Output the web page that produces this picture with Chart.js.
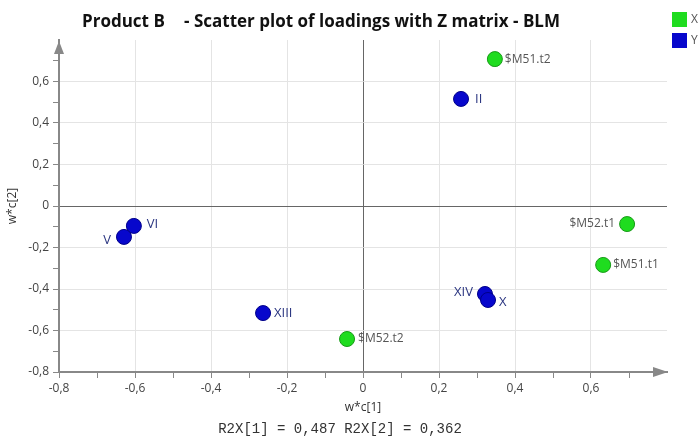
<!DOCTYPE html>
<html>
<head>
<meta charset="utf-8">
<script src="https://cdn.jsdelivr.net/npm/chart.js@4/dist/chart.umd.min.js"></script>
<style>
  html, body { margin: 0; padding: 0; background: #fff; }
  #wrap { width: 699px; height: 437px; }
</style>
</head>
<body>
<div id="wrap"><canvas id="loadings-chart" width="699" height="437"></canvas></div>
<script>
// X block loadings (green)
var xNames = ["$M51.t2", "$M52.t1", "$M51.t1", "$M52.t2"];
var xWc1 = [0.347, 0.695, 0.632, -0.042];
var xWc2 = [0.708, -0.087, -0.284, -0.641];

// Y block loadings (blue)
var yNames = ["II", "VI", "V", "XIII", "XIV", "X"];
var yWc1 = [0.258, -0.603, -0.629, -0.263, 0.321, 0.329];
var yWc2 = [0.516, -0.096, -0.149, -0.516, -0.424, -0.453];

var seriesNames = ["X", "Y"];
var titleMain = "Product B";
var titleRest = "- Scatter plot of loadings with Z matrix - BLM";
var footerText = "R2X[1] = 0,487 R2X[2] = 0,362";

// where each point label sits relative to its point (px)
var labelPlace = {
  "$M51.t2": [10, 0, "left"], "$M52.t1": [-12, 0, "right"], "$M51.t1": [10, 0, "left"], "$M52.t2": [11, 0, "left"],
  "II": [14, 0, "left"], "VI": [13, -2, "left"], "V": [-13, 3, "right"], "XIII": [11, 0, "left"],
  "XIV": [-12, -2, "right"], "X": [11, 2, "left"]
};

function toPoints(a, b) {
  var pts = [];
  for (var i = 0; i < a.length; i++) pts.push({x: a[i], y: b[i]});
  return pts;
}

function isMajor(v) { return Math.abs(Math.round(v * 10)) % 2 === 0; }
function isTop(v) { return Math.round(v * 10) === 8; }

function gridColor(ctx) {
  var v = ctx.tick.value;
  if (isTop(v)) return "rgba(0,0,0,0)";
  if (Math.abs(v) < 1e-9) return "#666";
  return isMajor(v) ? "#e4e4e4" : "rgba(0,0,0,0)";
}
function tickColor(ctx) {
  return isTop(ctx.tick.value) ? "rgba(0,0,0,0)" : "#888";
}
function tickLabel(v) {
  if (!isMajor(v) || isTop(v)) return "";
  return (Math.round(v * 10) / 10).toString().replace(".", ",");
}

var extras = {
  id: "extras",
  afterDraw: function(chart) {
    var c = chart.ctx, area = chart.chartArea;
    c.save();
    // axis arrows
    c.fillStyle = "#888";
    c.beginPath();
    c.moveTo(area.left, area.top + 1);
    c.lineTo(area.left - 5, area.top + 14);
    c.lineTo(area.left + 5, area.top + 14);
    c.closePath();
    c.fill();
    c.beginPath();
    c.moveTo(area.right + 1, area.bottom);
    c.lineTo(area.right - 14, area.bottom - 5);
    c.lineTo(area.right - 14, area.bottom + 5);
    c.closePath();
    c.fill();

    // point labels
    chart.data.datasets.forEach(function(ds, di) {
      var meta = chart.getDatasetMeta(di);
      var names = di === 0 ? xNames : yNames;
      c.font = di === 0 ? '12px "Open Sans"' : '13px "Open Sans"';
      c.fillStyle = di === 0 ? "#555" : "#2a3580";
      c.textBaseline = "middle";
      meta.data.forEach(function(el, i) {
        var p = labelPlace[names[i]] || [10, 0, "left"];
        c.textAlign = p[2];
        c.fillText(names[i], el.x + p[0], el.y + p[1]);
      });
    });

    // title
    c.fillStyle = "#111";
    c.font = 'bold 17px "Open Sans"';
    c.textAlign = "left";
    c.textBaseline = "middle";
    c.fillText(titleMain, 82, 22);
    c.fillText(titleRest, 184, 22);

    // legend
    var colors = [chart.data.datasets[0].backgroundColor, chart.data.datasets[1].backgroundColor];
    c.font = '12px "Open Sans"';
    for (var k = 0; k < seriesNames.length; k++) {
      c.fillStyle = colors[k];
      c.fillRect(672, 12 + k * 21, 15, 15);
      c.fillStyle = "#555";
      c.fillText(seriesNames[k], 691, 20 + k * 21);
    }

    // footer
    c.fillStyle = "#333";
    c.font = '14px "Liberation Mono"';
    c.textAlign = "center";
    c.fillText(footerText, 340, 429);
    c.restore();
  }
};

var canvasElement = document.getElementById("loadings-chart");
var config = {
  type: "scatter",
  data: {
    datasets: [
      {label: seriesNames[0], data: toPoints(xWc1, xWc2), backgroundColor: "#1fdc1f", borderColor: "#179a17", borderWidth: 1, pointRadius: 7.5, pointHoverRadius: 7.5},
      {label: seriesNames[1], data: toPoints(yWc1, yWc2), backgroundColor: "#0707cc", borderColor: "#00008a", borderWidth: 1, pointRadius: 7.5, pointHoverRadius: 7.5}
    ]
  },
  options: {
    responsive: false,
    animation: false,
    layout: {padding: {top: 40, right: 32, left: 0, bottom: 0}},
    plugins: {legend: {display: false}, tooltip: {enabled: false}, title: {display: false}},
    scales: {
      x: {
        type: "linear", min: -0.8, max: 0.8,
        afterFit: function(s) { s.height = 65; },
        ticks: {stepSize: 0.1, autoSkip: false, maxRotation: 0, padding: 3, color: "#444", font: {family: "Open Sans", size: 12}, callback: tickLabel},
        grid: {color: gridColor, tickColor: tickColor, tickLength: 6, lineWidth: 1},
        border: {color: "#888", width: 2},
        title: {display: true, text: "w*c[1]", color: "#333", font: {family: "Open Sans", size: 12}, padding: {top: 0, bottom: 22}}
      },
      y: {
        type: "linear", min: -0.8, max: 0.8,
        afterFit: function(s) { s.width = 59; },
        ticks: {stepSize: 0.1, autoSkip: false, padding: 4, color: "#444", font: {family: "Open Sans", size: 12}, callback: tickLabel},
        grid: {color: gridColor, tickColor: tickColor, tickLength: 6, lineWidth: 1},
        border: {color: "#888", width: 2},
        title: {display: true, text: "w*c[2]", color: "#333", font: {family: "Open Sans", size: 12}, padding: {top: 5, bottom: 0}}
      }
    }
  },
  plugins: [extras]
};

var LoadingsChart = new Chart(canvasElement, config);
</script>
</body>
</html>
